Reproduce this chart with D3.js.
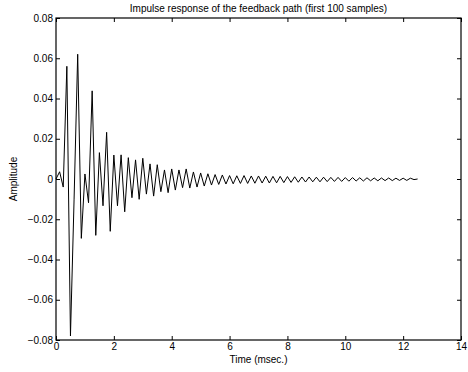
<!DOCTYPE html>
<html>
<head>
<meta charset="utf-8">
<script src="https://cdn.jsdelivr.net/npm/d3@7"></script>
<style>
  body { margin: 0; background: #fff; }
  svg { display: block; font-family: "Liberation Sans", Arial, sans-serif; }
</style>
</head>
<body>
<svg id="chart"></svg>
<script>
var width = 468,
  height = 372,
  margin = { top: 18, right: 7, bottom: 32, left: 56 };

var title = "Impulse response of the feedback path (first 100 samples)",
  xLabel = "Time (msec.)",
  yLabel = "Amplitude";

// sample spacing in msec (8 kHz)
var dt = 0.125;

// impulse response values
var amplitude = [
  0, 0.0036, -0.004, 0.056, -0.078, -0.01, 0.062, -0.0295, 0.0025, -0.0118,
  0.0438, -0.028, 0.0131, -0.0133, 0.0232, -0.026, 0.0119, -0.0133, 0.012, -0.0163,
  0.0106, -0.0093, 0.0095, -0.0101, 0.0103, -0.0075, 0.0075, -0.0085, 0.0071, -0.0063,
  0.0045, -0.0068, 0.005, -0.0055, 0.0045, -0.0043, 0.005, -0.0045, 0.0035, -0.004,
  0.003, -0.0035, 0.0026, -0.003, 0.0022, -0.0027, 0.002, -0.0025, 0.0017, -0.0024,
  0.0016, -0.0022, 0.0017, -0.0022, 0.0015, -0.0021, 0.0015, -0.002, 0.0014, -0.002,
  0.0013, -0.0019, 0.0013, -0.0018, 0.0012, -0.0017, 0.0011, -0.0016, 0.001, -0.0015,
  0.001, -0.0014, 0.0009, -0.0014, 0.0009, -0.0013, 0.0008, -0.0012, 0.0008, -0.0012,
  0.0007, -0.0011, 0.0007, -0.001, 0.0006, -0.001, 0.0006, -0.0009, 0.0005, -0.0009,
  0.0005, -0.0008, 0.0005, -0.0008, 0.0004, -0.0007, 0.0004, -0.0007, 0.0004, -0.0003,
  0
];

var xTicks = [0, 2, 4, 6, 8, 10, 12, 14],
  yTicks = [-0.08, -0.06, -0.04, -0.02, 0, 0.02, 0.04, 0.06, 0.08];

var svg = d3.select("#chart").attr("width", width).attr("height", height);

var x = d3.scaleLinear().domain([0, 14]).range([margin.left, width - margin.right]);
var y = d3.scaleLinear().domain([-0.08, 0.08]).range([height - margin.bottom, margin.top]);

function yFmt(d) {
  if (Math.abs(d) < 1e-9) return "0";
  return (d < 0 ? "\u2212" : "") + Math.abs(d).toFixed(2);
}

var tickLen = 4;

// bottom axis with inward ticks
svg.append("g")
  .attr("transform", "translate(0," + y.range()[0] + ")")
  .call(d3.axisBottom(x).tickValues(xTicks).tickSize(-tickLen).tickPadding(3).tickFormat(d3.format("d")))
  .call(function(g) { g.select(".domain").remove(); });

// top axis, ticks only
svg.append("g")
  .attr("transform", "translate(0," + y.range()[1] + ")")
  .call(d3.axisTop(x).tickValues(xTicks).tickSize(-tickLen).tickFormat(""))
  .call(function(g) { g.select(".domain").remove(); });

// left axis
svg.append("g")
  .attr("transform", "translate(" + x.range()[0] + ",0)")
  .call(d3.axisLeft(y).tickValues(yTicks).tickSize(-tickLen).tickPadding(3).tickFormat(yFmt))
  .call(function(g) { g.select(".domain").remove(); });

// right axis, ticks only
svg.append("g")
  .attr("transform", "translate(" + x.range()[1] + ",0)")
  .call(d3.axisRight(y).tickValues(yTicks).tickSize(-tickLen).tickFormat(""))
  .call(function(g) { g.select(".domain").remove(); });

svg.selectAll(".tick text").attr("font-size", 10).attr("fill", "#000");
svg.selectAll(".tick line").attr("stroke", "#000");

// frame
svg.append("rect")
  .attr("x", x.range()[0])
  .attr("y", y.range()[1])
  .attr("width", x.range()[1] - x.range()[0])
  .attr("height", y.range()[0] - y.range()[1])
  .attr("fill", "none")
  .attr("stroke", "#000")
  .attr("stroke-width", 1.2);

var line = d3.line()
  .x(function(d, i) { return x(i * dt); })
  .y(function(d) { return y(d); });

svg.append("path")
  .datum(amplitude)
  .attr("fill", "none")
  .attr("stroke", "#000")
  .attr("stroke-width", 1)
  .attr("stroke-linejoin", "miter")
  .attr("d", line);

svg.append("text")
  .attr("x", (x.range()[0] + x.range()[1]) / 2)
  .attr("y", 12)
  .attr("text-anchor", "middle")
  .attr("font-size", 10)
  .text(title);

svg.append("text")
  .attr("x", (x.range()[0] + x.range()[1]) / 2)
  .attr("y", 363)
  .attr("text-anchor", "middle")
  .attr("font-size", 10)
  .text(xLabel);

svg.append("text")
  .attr("transform", "translate(17," + y(0) + ") rotate(-90)")
  .attr("text-anchor", "middle")
  .attr("font-size", 10)
  .text(yLabel);
</script>
</body>
</html>
